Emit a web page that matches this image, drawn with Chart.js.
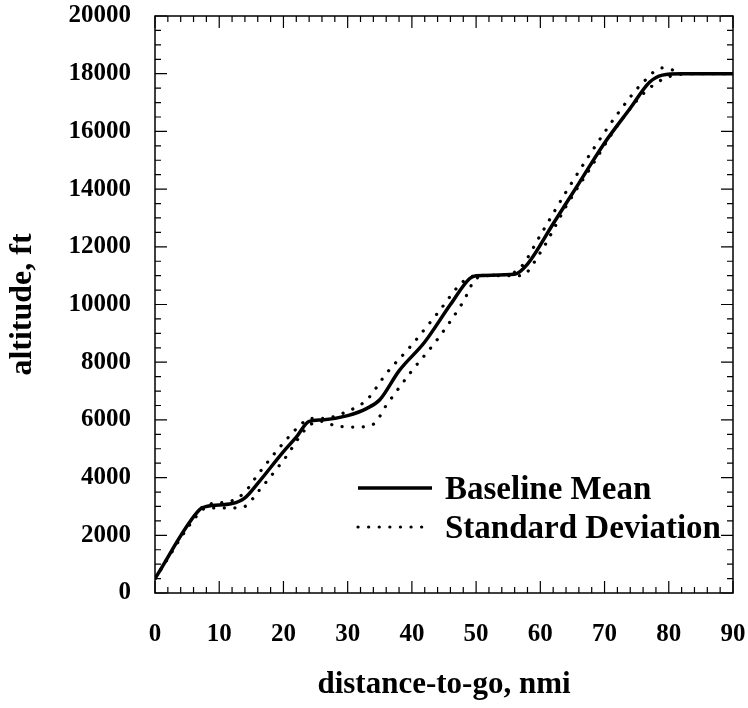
<!DOCTYPE html>
<html>
<head>
<meta charset="utf-8">
<script src="https://cdn.jsdelivr.net/npm/chart.js@4"></script>
<style>
  html, body { margin: 0; padding: 0; background: #fff; }
  #wrap { width: 748px; height: 708px; }
</style>
</head>
<body>
<div id="wrap"><canvas id="grafico"></canvas></div>
<script>
// Dados (distance-to-go, nmi / altitude, ft)
var mediaX = [0, 7, 8, 12, 14, 16, 20, 22, 24, 26, 30, 33, 35, 38, 42, 46, 49, 50, 56, 58, 62, 66, 70, 74, 77, 79, 82, 90];
var mediaY = [500, 2900, 3000, 3100, 3300, 3800, 4900, 5400, 5950, 6000, 6150, 6400, 6700, 7700, 8700, 10000, 10900, 11000, 11050, 11400, 12800, 14200, 15600, 16800, 17700, 17950, 18000, 18000];

var desvioSupX = [0, 7, 8, 12, 14, 16, 20, 23, 24, 26, 30, 33, 36, 40, 44, 48, 50, 55, 57, 60, 64, 68, 72, 76, 79, 81, 82, 90];
var desvioSupY = [500, 2900, 3050, 3200, 3500, 4100, 5200, 5900, 6050, 6050, 6300, 6700, 7600, 8600, 9700, 10800, 11000, 11050, 11300, 12400, 13900, 15300, 16600, 17700, 18200, 18100, 18000, 18000];

var desvioInfX = [0, 7, 8, 12, 14, 16, 20, 24, 26, 28, 31, 34, 36, 40, 44, 48, 50, 52, 57, 60, 64, 68, 72, 76, 79, 81, 84, 90];
var desvioInfY = [500, 2800, 2950, 2950, 3000, 3500, 4600, 5800, 5950, 5800, 5750, 5850, 6500, 7700, 8800, 10100, 10900, 11000, 11000, 11800, 13400, 14800, 16200, 17300, 17800, 17950, 18000, 18000];

function pontos(xs, ys) {
  return xs.map(function (x, i) { return { x: x, y: ys[i] }; });
}

var fonte = "'Liberation Serif', 'Times New Roman', serif";

// Ticks para dentro nos quatro lados, moldura e legenda
var moldura = {
  id: "moldura",
  afterDraw: function (chart) {
    var ctx = chart.ctx, a = chart.chartArea;
    var sx = chart.scales.x, sy = chart.scales.y;
    ctx.save();
    ctx.strokeStyle = "#000";
    ctx.lineWidth = 1.5;
    ctx.strokeRect(a.left, a.top, a.right - a.left, a.bottom - a.top);
    ctx.lineWidth = 1.2;
    ctx.beginPath();
    for (var v = 0; v <= 90; v += 2) {
      var px = sx.getPixelForValue(v);
      var len = v % 10 === 0 ? 12 : 6;
      ctx.moveTo(px, a.bottom); ctx.lineTo(px, a.bottom - len);
      ctx.moveTo(px, a.top); ctx.lineTo(px, a.top + len);
    }
    for (var w = 0; w <= 20000; w += 500) {
      var py = sy.getPixelForValue(w);
      var l2 = w % 2000 === 0 ? 12 : 6;
      ctx.moveTo(a.left, py); ctx.lineTo(a.left + l2, py);
      ctx.moveTo(a.right, py); ctx.lineTo(a.right - l2, py);
    }
    ctx.stroke();

    // legenda
    ctx.font = "bold 33px " + fonte;
    ctx.fillStyle = "#000";
    ctx.textBaseline = "middle";
    ctx.lineWidth = 3.5;
    ctx.beginPath();
    ctx.moveTo(358, 488); ctx.lineTo(432, 488);
    ctx.stroke();
    ctx.fillText("Baseline Mean", 445, 490);
    ctx.lineWidth = 3.2;
    ctx.lineCap = "round";
    ctx.setLineDash([0.1, 10.5]);
    ctx.beginPath();
    ctx.moveTo(358, 527); ctx.lineTo(432, 527);
    ctx.stroke();
    ctx.setLineDash([]);
    ctx.fillText("Standard Deviation", 445, 529);
    ctx.restore();
  },
};

var graficoAltitude = document.getElementById("grafico").getContext("2d");

new Chart(graficoAltitude, {
  type: "line",
  data: {
    datasets: [
      {
        label: "Baseline Mean",
        data: pontos(mediaX, mediaY),
        borderColor: "#000",
        borderWidth: 3.5,
        pointRadius: 0,
        cubicInterpolationMode: "monotone",
      },
      {
        label: "Standard Deviation",
        data: pontos(desvioSupX, desvioSupY),
        borderColor: "#000",
        borderWidth: 3.2,
        borderDash: [0.1, 10.5],
        borderCapStyle: "round",
        pointRadius: 0,
        cubicInterpolationMode: "monotone",
      },
      {
        label: "Standard Deviation",
        data: pontos(desvioInfX, desvioInfY),
        borderColor: "#000",
        borderWidth: 3.2,
        borderDash: [0.1, 10.5],
        borderCapStyle: "round",
        pointRadius: 0,
        cubicInterpolationMode: "monotone",
      },
    ],
  },
  options: {
    responsive: true,
    maintainAspectRatio: false,
    animation: false,
    layout: { padding: { top: 16, right: 15, left: 0, bottom: 0 } },
    plugins: {
      legend: { display: false },
      tooltip: { enabled: false },
    },
    scales: {
      x: {
        type: "linear",
        min: 0,
        max: 90,
        grid: { display: false },
        border: { display: false },
        afterFit: function (s) {
          s.height = 115;
          s.paddingLeft = 0;
          s.paddingRight = 0;
        },
        ticks: {
          stepSize: 10,
          color: "#000",
          padding: 19,
          font: { family: fonte, size: 25, weight: "bold" },
        },
        title: {
          display: true,
          text: "distance-to-go, nmi",
          color: "#000",
          padding: { top: 24 },
          font: { family: fonte, size: 31, weight: "bold" },
        },
      },
      y: {
        type: "linear",
        min: 0,
        max: 20000,
        grid: { display: false },
        border: { display: false },
        afterFit: function (s) {
          s.width = 155;
          s.paddingTop = 0;
          s.paddingBottom = 0;
        },
        ticks: {
          stepSize: 2000,
          color: "#000",
          padding: 16,
          callback: function (v) { return String(v); },
          font: { family: fonte, size: 25, weight: "bold" },
        },
        title: {
          display: true,
          text: "altitude, ft",
          color: "#000",
          padding: { bottom: 0 },
          font: { family: fonte, size: 32, weight: "bold" },
        },
      },
    },
  },
  plugins: [moldura],
});
</script>
</body>
</html>
